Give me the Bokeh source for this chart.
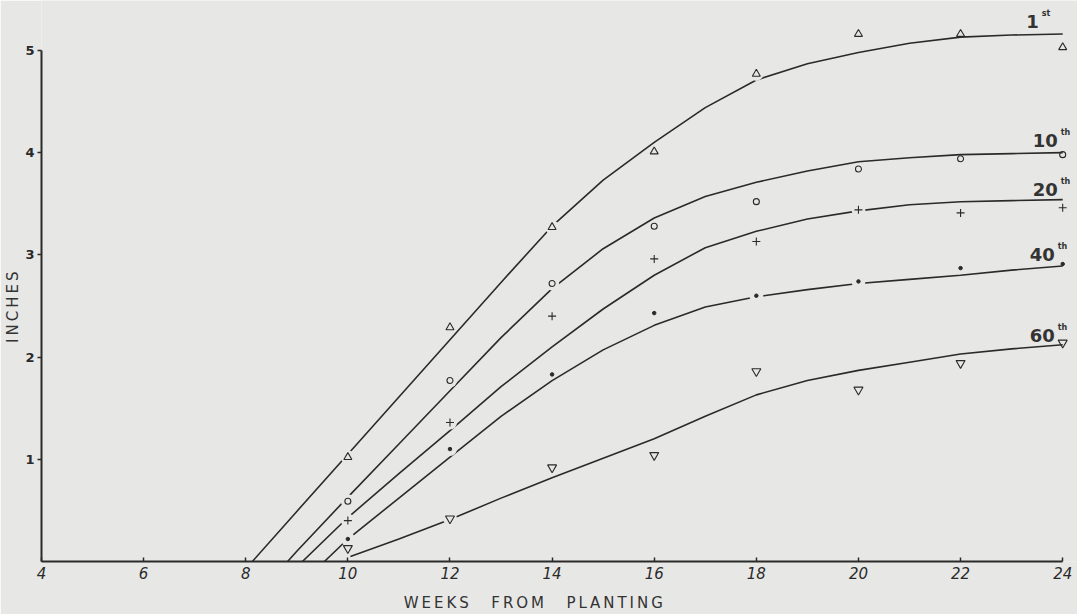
from bokeh.plotting import figure
from bokeh.models import Range1d, FixedTicker
from bokeh.core.properties import value
from bokeh.embed import file_html
from bokeh.resources import INLINE

# ---------------- data ----------------
weeks = [10, 12, 14, 16, 18, 20, 22, 24]
pts_1st = [1.02, 2.29, 3.27, 4.01, 4.77, 5.16, 5.16, 5.03]
pts_10th = [0.59, 1.77, 2.72, 3.28, 3.52, 3.84, 3.94, 3.98]
pts_20th = [0.40, 1.36, 2.40, 2.96, 3.13, 3.44, 3.41, 3.46]
pts_40th = [0.22, 1.10, 1.83, 2.43, 2.60, 2.74, 2.87, 2.91]
pts_60th = [0.13, 0.42, 0.92, 1.04, 1.86, 1.68, 1.94, 2.14]

# fitted (hand drawn) curves
curve_1st_x = [8.13, 9, 10, 11, 12, 13, 14, 15, 16, 17, 18, 19, 20, 21, 22, 23, 24]
curve_1st_y = [0, 0.49, 1.05, 1.61, 2.17, 2.73, 3.28, 3.73, 4.10, 4.44, 4.71, 4.87, 4.98, 5.07, 5.13, 5.15, 5.16]
curve_10th_x = [8.82, 9, 10, 11, 12, 13, 14, 15, 16, 17, 18, 19, 20, 21, 22, 23, 24]
curve_10th_y = [0, 0.10, 0.63, 1.15, 1.67, 2.19, 2.67, 3.06, 3.36, 3.57, 3.71, 3.82, 3.91, 3.95, 3.98, 3.99, 4.00]
curve_20th_x = [9.11, 10, 11, 12, 13, 14, 15, 16, 17, 18, 19, 20, 21, 22, 23, 24]
curve_20th_y = [0, 0.43, 0.86, 1.28, 1.71, 2.10, 2.47, 2.80, 3.07, 3.23, 3.35, 3.43, 3.49, 3.52, 3.53, 3.54]
curve_40th_x = [9.54, 10, 11, 12, 13, 14, 15, 16, 17, 18, 19, 20, 21, 22, 23, 24]
curve_40th_y = [0, 0.22, 0.62, 1.02, 1.42, 1.77, 2.07, 2.31, 2.49, 2.59, 2.66, 2.72, 2.76, 2.80, 2.85, 2.89]
curve_60th_x = [10.05, 11, 12, 13, 14, 15, 16, 17, 18, 19, 20, 21, 22, 23, 24]
curve_60th_y = [0.05, 0.22, 0.41, 0.62, 0.82, 1.01, 1.20, 1.42, 1.63, 1.77, 1.87, 1.95, 2.03, 2.08, 2.12]

label_main = ["1", "10", "20", "40", "60"]
label_sup = ["st", "th", "th", "th", "th"]

x_ticks = [4, 6, 8, 10, 12, 14, 16, 18, 20, 22, 24]
y_ticks = [1, 2, 3, 4, 5]
x_title = "WEEKS FROM PLANTING"
y_title = "INCHES"

# ---------------- style / layout ----------------
BG = "#e7e7e5"
INK = "#2a2a2a"
EM, EN, THIN = "\u2003", "\u2002", "\u2009"
PAD = EM * 3 + EN  # non-collapsing padding used to shift centred axis titles

p = figure(width=1077, height=614, output_backend="svg", toolbar_location=None,
           x_range=Range1d(4, 24.29), y_range=Range1d(0, 5.488),
           min_border_left=41, min_border_right=0, min_border_top=0, min_border_bottom=52)
p.background_fill_color = BG
p.border_fill_color = BG
p.outline_line_color = None
p.grid.visible = False

xa = p.xaxis[0]
xa.ticker = FixedTicker(ticks=x_ticks)
xa.bounds = (4, 24)
xa.major_tick_in = 4
xa.major_tick_out = 0
xa.minor_tick_line_color = None
xa.axis_line_width = 2
xa.axis_line_color = INK
xa.major_tick_line_color = INK
xa.major_tick_line_width = 1.5
xa.major_label_text_font = "DejaVu Sans"
xa.major_label_text_font_style = "italic"
xa.major_label_text_font_size = "15px"
xa.major_label_text_color = INK
xa.major_label_standoff = 5
words = x_title.split(" ")
xa.axis_label = (EM + EN).join(THIN.join(w) for w in words) + PAD
xa.axis_label_text_font = "DejaVu Sans"
xa.axis_label_text_font_style = "normal"
xa.axis_label_text_font_size = "15px"
xa.axis_label_text_color = "#333333"
xa.axis_label_standoff = 12

ya = p.yaxis[0]
ya.ticker = FixedTicker(ticks=y_ticks)
ya.bounds = (0, 5)
ya.major_tick_in = 0
ya.major_tick_out = 4
ya.minor_tick_line_color = None
ya.axis_line_width = 2
ya.axis_line_color = INK
ya.major_tick_line_color = INK
ya.major_tick_line_width = 1.5
ya.major_label_text_font = "DejaVu Sans"
ya.major_label_text_font_style = "bold"
ya.major_label_text_font_size = "13px"
ya.major_label_text_color = INK
ya.major_label_standoff = 3
ya.axis_label = THIN.join(y_title) + PAD
ya.axis_label_text_font = "DejaVu Sans"
ya.axis_label_text_font_style = "normal"
ya.axis_label_text_font_size = "15px"
ya.axis_label_text_color = "#333333"
ya.axis_label_standoff = 0

series = [
    (curve_1st_x, curve_1st_y, pts_1st, "triangle", 8, [10, 12, 14, 18]),
    (curve_10th_x, curve_10th_y, pts_10th, "circle", 6, [10, 12, 14]),
    (curve_20th_x, curve_20th_y, pts_20th, "cross", 8, [10, 12, 20]),
    (curve_40th_x, curve_40th_y, pts_40th, "circle", 3.5, [10, 12, 18, 20]),
    (curve_60th_x, curve_60th_y, pts_60th, "inverted_triangle", 9, [12]),
]
label_dx = [-24, -5, -5, -8, -8]
label_dy = [-13, -12, -10, -12, -9]

for i, (cx, cy, py, mk, sz, gaps) in enumerate(series):
    p.line(cx, cy, line_color=INK, line_width=1.6)
for i, (cx, cy, py, mk, sz, gaps) in enumerate(series):
    gx = [w for w in weeks if w in gaps]
    gy = [py[weeks.index(w)] for w in gx]
    p.scatter(gx, gy, marker="circle", size=14, fill_color=BG, line_color=None)
for i, (cx, cy, py, mk, sz, gaps) in enumerate(series):
    if i == 3:
        p.scatter(weeks, py, marker=mk, size=sz, line_color=INK, fill_color=INK)
    else:
        p.scatter(weeks, py, marker=mk, size=sz, line_color=INK, line_width=1.1, fill_color=None)
    p.text([cx[-1]], [cy[-1]], text=[label_main[i]], text_font=value("DejaVu Sans"),
           text_font_style="bold", text_font_size="18px", text_color="#333333",
           text_align="right", text_baseline="alphabetic",
           x_offset=label_dx[i], y_offset=label_dy[i])
    p.text([cx[-1]], [cy[-1]], text=[label_sup[i]], text_font=value("DejaVu Sans"),
           text_font_style="bold", text_font_size="8px", text_color="#333333",
           text_align="left", text_baseline="alphabetic",
           x_offset=label_dx[i] + 3, y_offset=label_dy[i] - 8)

open("out.html", "w").write(file_html(p, INLINE))
